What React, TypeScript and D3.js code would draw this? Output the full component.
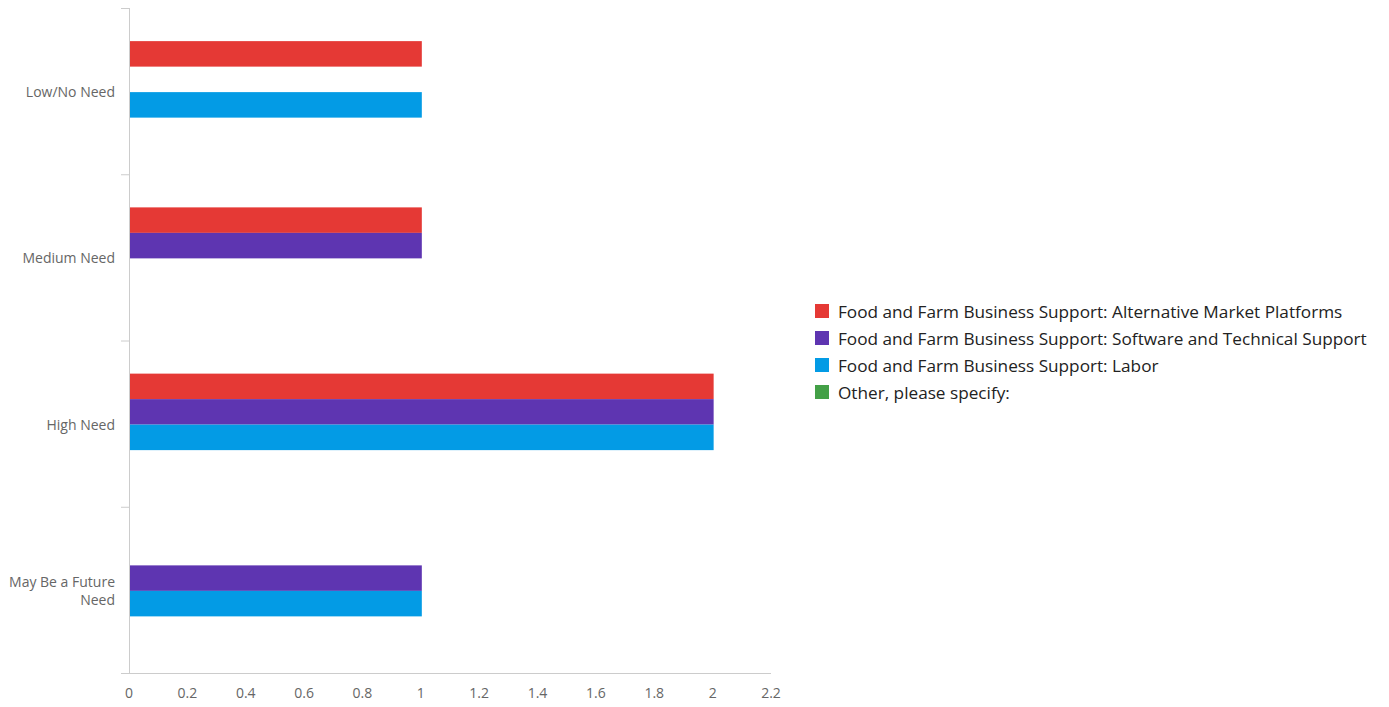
import React from 'react';
import * as d3 from 'd3';

const categories = ['Low/No Need', 'Medium Need', 'High Need', 'May Be a Future Need'];
const categoryLines = [['Low/No Need'], ['Medium Need'], ['High Need'], ['May Be a Future', 'Need']];

const seriesNames = [
  'Food and Farm Business Support: Alternative Market Platforms',
  'Food and Farm Business Support: Software and Technical Support',
  'Food and Farm Business Support: Labor',
  'Other, please specify:',
];
const seriesColors = ['#e53935', '#5e35b1', '#039be5', '#43a047'];

// one array per series, in category order
const altMarketValues = [1, 1, 2, 0];
const softwareValues = [0, 1, 2, 1];
const laborValues = [1, 0, 2, 1];
const otherValues = [0, 0, 0, 0];
const seriesValues = [altMarketValues, softwareValues, laborValues, otherValues];

const xTicks = [0, 0.2, 0.4, 0.6, 0.8, 1, 1.2, 1.4, 1.6, 1.8, 2, 2.2];

const App: React.FC = () => {
  const width = 1389;
  const height = 707;
  const margin = { top: 8, left: 129, right: 618, bottom: 34 };
  const plotW = width - margin.left - margin.right;
  const plotH = height - margin.top - margin.bottom;

  const x = d3.scaleLinear().domain([0, 2.2]).range([0, plotW]);
  const y = d3.scaleBand<string>().domain(categories).range([0, plotH]).padding(0);
  const ySub = d3
    .scaleBand<string>()
    .domain(seriesNames)
    .range([1, y.bandwidth() + 1])
    .paddingInner(0)
    .paddingOuter(1.26);

  const axisColor = '#cccccc';
  const labelColor = '#666666';
  const font = '"Open Sans", sans-serif';

  const bounds = [...categories.map((c) => y(c) as number), plotH];

  return (
    <svg width={width} height={height} style={{ position: 'absolute', left: 0, top: 0 }}>
      <g transform={`translate(${margin.left},${margin.top})`}>
        {/* bars */}
        {categories.map((cat, ci) =>
          seriesNames.map((s, si) => {
            const v = seriesValues[si][ci];
            if (!v) return null;
            return (
              <rect
                key={`${cat}-${s}`}
                x={x(0) + 1}
                y={(y(cat) as number) + (ySub(s) as number)}
                width={x(v) - x(0)}
                height={ySub.bandwidth()}
                fill={seriesColors[si]}
              />
            );
          })
        )}

        {/* y axis */}
        <line x1={0.5} x2={0.5} y1={0} y2={plotH} stroke={axisColor} />
        {bounds.map((b, i) => (
          <line key={i} x1={-8} x2={0.5} y1={b + 0.5} y2={b + 0.5} stroke={axisColor} />
        ))}
        {categories.map((cat, ci) => {
          const lines = categoryLines[ci];
          const cy = (y(cat) as number) + y.bandwidth() / 2 + 2;
          const lh = 18;
          return (
            <text
              key={cat}
              x={-14}
              y={cy - ((lines.length - 1) * lh) / 2}
              textAnchor="end"
              dominantBaseline="middle"
              fontFamily={font}
              fontSize={14}
              fill={labelColor}
            >
              {lines.map((l, li) => (
                <tspan key={li} x={-14} dy={li === 0 ? 0 : lh}>
                  {l}
                </tspan>
              ))}
            </text>
          );
        })}

        {/* x axis */}
        <line x1={0} x2={plotW} y1={plotH + 0.5} y2={plotH + 0.5} stroke={axisColor} />
        {xTicks.map((t) => (
          <text
            key={t}
            x={x(t)}
            y={plotH + 21}
            textAnchor="middle"
            dominantBaseline="middle"
            fontFamily={font}
            fontSize={14}
            fill={labelColor}
          >
            {d3.format('~g')(t)}
          </text>
        ))}
      </g>

      {/* legend */}
      <g transform="translate(815,304)">
        {seriesNames.map((s, i) => (
          <g key={s} transform={`translate(0,${i * 27})`}>
            <rect x={0} y={0} width={14} height={14} fill={seriesColors[i]} />
            <text
              x={23}
              y={9}
              dominantBaseline="middle"
              fontFamily={font}
              fontSize={17.2}
              fill="#222222"
            >
              {s}
            </text>
          </g>
        ))}
      </g>
    </svg>
  );
};

export default App;
